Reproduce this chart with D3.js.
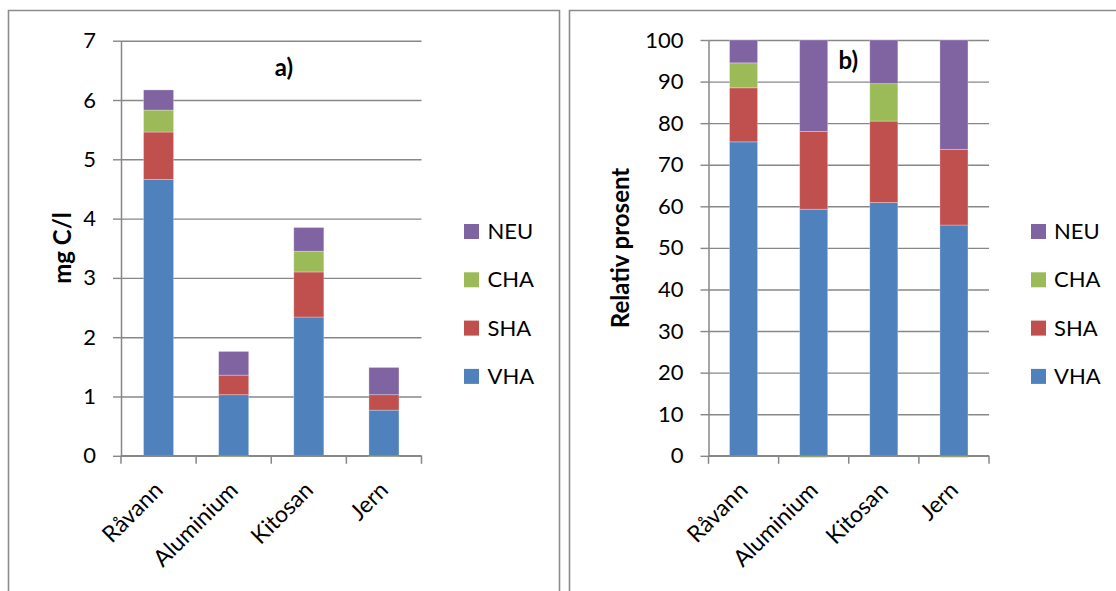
<!DOCTYPE html>
<html>
<head>
<meta charset="utf-8">
<script src="https://cdn.jsdelivr.net/npm/d3@7"></script>
<style>
  html, body { margin: 0; padding: 0; background: #fff; }
  svg { display: block; font-family: Lato, "Open Sans", sans-serif; }
</style>
</head>
<body>
<svg id="chart" width="1116" height="591"></svg>
<script>
// Categories (treatments) and fractions
const categories = ["Råvann", "Aluminium", "Kitosan", "Jern"];
const seriesNames = ["VHA", "SHA", "CHA", "NEU"];
const legendOrder = ["NEU", "CHA", "SHA", "VHA"];

// a) concentrations, mg C/l
const vhaConc = [4.66, 1.03, 2.34, 0.77];
const shaConc = [0.80, 0.33, 0.76, 0.26];
const chaConc = [0.37, -0.02, 0.35, -0.02];
const neuConc = [0.34, 0.40, 0.40, 0.46];

// b) relative share, percent
const vhaPct = [75.5, 59.3, 60.9, 55.5];
const shaPct = [13.0, 18.7, 19.6, 18.2];
const chaPct = [6.0, -0.4, 9.0, -0.4];
const neuPct = [5.5, 22.0, 10.5, 26.3];

// Axis ticks
const ticksConc = [0, 1, 2, 3, 4, 5, 6, 7];
const ticksPct = [0, 10, 20, 30, 40, 50, 60, 70, 80, 90, 100];

const colors = { VHA: "#4F81BD", SHA: "#C0504D", CHA: "#9BBB59", NEU: "#8064A2" };
const gridColor = "#878787";
const FONT = "Lato, 'Open Sans', sans-serif";

const svg = d3.select("#chart");

// Panel frames
svg.append("path")
  .attr("d", "M8.5,600 V10.5 H559.5 V600")
  .attr("fill", "none").attr("stroke", "#8c8c8c").attr("stroke-width", 1.6);
svg.append("path")
  .attr("d", "M569.5,600 V10.5 H1120")
  .attr("fill", "none").attr("stroke", "#8c8c8c").attr("stroke-width", 1.6);

function buildRows(series) {
  return categories.map((c, i) => {
    const row = { cat: c };
    seriesNames.forEach((s, k) => { row[s] = series[k][i]; });
    return row;
  });
}

function drawPanel(cfg) {
  const g = svg.append("g");
  const x = d3.scaleBand().domain(categories).range([cfg.left, cfg.right]).padding(0);
  const y = d3.scaleLinear().domain([0, cfg.yMax]).range([cfg.bottom, cfg.top]);
  const plotW = cfg.right - cfg.left;

  // Horizontal gridlines
  g.append("g")
    .attr("transform", `translate(${cfg.left},0)`)
    .call(d3.axisLeft(y).tickValues(cfg.ticks).tickSize(-plotW).tickFormat(""))
    .call(a => a.select(".domain").remove())
    .call(a => a.selectAll(".tick line").attr("stroke", gridColor).attr("stroke-width", 1.4));

  // Stacked bars
  const rows = buildRows(cfg.series);
  const stack = d3.stack().keys(seriesNames).offset(d3.stackOffsetDiverging);
  const layers = stack(rows);
  const bw = x.bandwidth() * 0.4;
  g.append("g").selectAll("g")
    .data(layers)
    .join("g")
    .attr("fill", d => colors[d.key])
    .selectAll("rect")
    .data(d => d)
    .join("rect")
    .attr("x", d => x(d.data.cat) + x.bandwidth() / 2 - bw / 2)
    .attr("width", bw)
    .attr("y", d => y(Math.max(d[0], d[1])))
    .attr("height", d => Math.max(0, Math.abs(y(d[0]) - y(d[1]))))
    .attr("stroke", "rgba(255,255,255,0.35)")
    .attr("stroke-width", 0.8);

  // Y axis with outward ticks and labels
  const yAxis = g.append("g")
    .attr("transform", `translate(${cfg.left},0)`)
    .call(d3.axisLeft(y).tickValues(cfg.ticks).tickFormat(d3.format("d"))
      .tickSize(8).tickSizeOuter(0).tickPadding(17));
  yAxis.attr("font-family", FONT).attr("font-size", 22);
  yAxis.select(".domain").attr("stroke", gridColor).attr("stroke-width", 1.5);
  yAxis.selectAll(".tick line").attr("stroke", gridColor).attr("stroke-width", 1.4);
  yAxis.selectAll(".tick text").attr("fill", "#000");

  // X axis line and category boundary ticks
  g.append("line")
    .attr("x1", cfg.left).attr("x2", cfg.right)
    .attr("y1", y(0)).attr("y2", y(0))
    .attr("stroke", gridColor).attr("stroke-width", 1.5);
  const edges = categories.map(c => x(c)).concat([cfg.right]);
  g.append("g").selectAll("line")
    .data(edges)
    .join("line")
    .attr("x1", d => d).attr("x2", d => d)
    .attr("y1", y(0)).attr("y2", y(0) + 8)
    .attr("stroke", gridColor).attr("stroke-width", 1.5);

  // Rotated category labels
  g.append("g").selectAll("text")
    .data(categories)
    .join("text")
    .attr("transform", d => `translate(${x(d) + x.bandwidth() / 2},${y(0) + 30}) rotate(-45)`)
    .attr("text-anchor", "end")
    .attr("dy", "0.35em")
    .style("font-size", "23px")
    .attr("fill", "#000")
    .text(d => d);

  // Y axis title
  g.append("text")
    .attr("transform", `translate(${cfg.yTitleX},248) rotate(-90)`)
    .attr("text-anchor", "middle")
    .attr("dy", "0.35em")
    .style("font-size", "24px")
    .style("font-weight", "bold")
    .attr("fill", "#000")
    .text(cfg.yTitle);

  // Panel label
  const lbl = g.append("g");
  const t = lbl.append("text")
    .attr("x", cfg.labelX).attr("y", cfg.labelY)
    .attr("text-anchor", "middle")
    .style("font-size", "24px")
    .style("font-weight", "bold")
    .attr("fill", "#000")
    .text(cfg.label);
  if (cfg.labelBg) {
    const bb = t.node().getBBox();
    lbl.insert("rect", "text")
      .attr("x", bb.x - 3).attr("y", bb.y - 1)
      .attr("width", bb.width + 6).attr("height", bb.height + 2)
      .attr("fill", "#fff");
  }

  // Legend
  const leg = g.append("g").selectAll("g")
    .data(legendOrder)
    .join("g")
    .attr("transform", (d, i) => `translate(${cfg.legendX},${224 + i * 48.3})`);
  leg.append("rect").attr("width", 15).attr("height", 15).attr("fill", d => colors[d]);
  leg.append("text")
    .attr("x", cfg.legendTextX - cfg.legendX)
    .attr("y", 15)
    .style("font-size", "22px")
    .attr("fill", "#000")
    .text(d => d);
}

drawPanel({
  left: 121, right: 421.5, top: 40.7, bottom: 455.8,
  yMax: 7, ticks: ticksConc,
  series: [vhaConc, shaConc, chaConc, neuConc],
  yTitle: "mg C/l", yTitleX: 63,
  label: "a)", labelX: 284, labelY: 76, labelBg: false,
  legendX: 464, legendTextX: 487.5
});

drawPanel({
  left: 708.5, right: 989, top: 40, bottom: 455.8,
  yMax: 100, ticks: ticksPct,
  series: [vhaPct, shaPct, chaPct, neuPct],
  yTitle: "Relativ prosent", yTitleX: 620.5,
  label: "b)", labelX: 848.3, labelY: 68.5, labelBg: true,
  legendX: 1031, legendTextX: 1054
});
</script>
</body>
</html>
